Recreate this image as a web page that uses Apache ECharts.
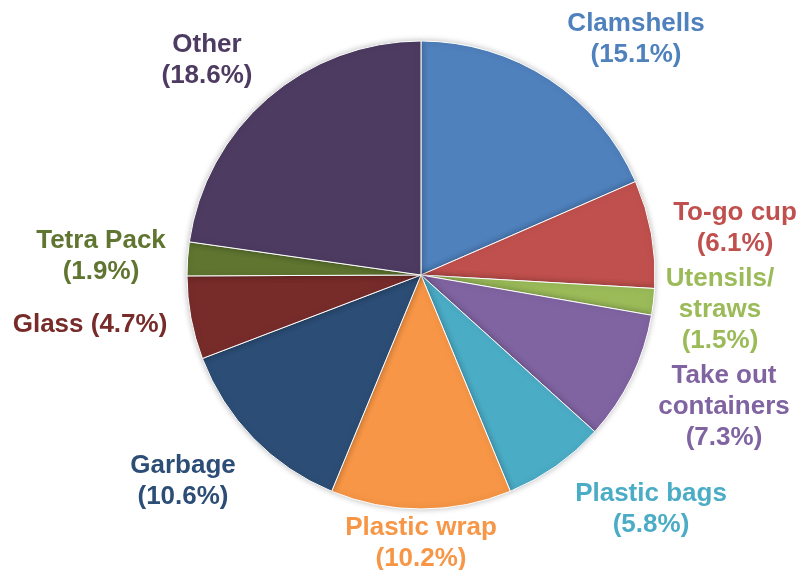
<!DOCTYPE html>
<html>
<head>
<meta charset="utf-8">
<style>
  html, body { margin: 0; padding: 0; background: #ffffff; }
  #chart { width: 804px; height: 570px; }
</style>
<script src="https://cdn.jsdelivr.net/npm/echarts@6/dist/echarts.min.js"></script>
</head>
<body>
<div id="chart"></div>
<script>
// Waste composition by category (share in percent)
const categories = ['Clamshells', 'To-go cup', 'Utensils/\nstraws', 'Take out\ncontainers', 'Plastic bags',
                    'Plastic wrap', 'Garbage', 'Glass', 'Tetra Pack', 'Other'];
const shares = [15.1, 6.1, 1.5, 7.3, 5.8, 10.2, 10.6, 4.7, 1.9, 18.6];

// Slice colours
const colors = ['#4F81BD', '#C0504D', '#9BBB59', '#8064A2', '#4BACC6',
                '#F79646', '#2C4D75', '#772C2A', '#5F7530', '#4D3B61'];

// Where each label block is centred (px), and how name and value are joined
const labelCenters = [[636, 39], [735, 228], [720, 310], [724, 407], [651, 509],
                      [421, 543], [183, 481], [90, 325], [101, 256], [207, 60]];
const labelJoin = ['\n', '\n', '\n', '\n', '\n', '\n', '\n', ' ', '\n', '\n'];

const chart = echarts.init(document.getElementById('chart'), null, { renderer: 'canvas' });

chart.setOption({
  animation: false,
  series: [{
    type: 'pie',
    center: [421, 275],
    radius: [0, 234],
    startAngle: 90,
    clockwise: true,
    avoidLabelOverlap: false,
    itemStyle: {
      borderColor: '#ffffff',
      borderWidth: 1,
      shadowBlur: 6,
      shadowColor: 'rgba(0,0,0,0.25)'
    },
    label: {
      show: true,
      position: 'outside',
      fontFamily: 'Liberation Sans, Arial, sans-serif',
      fontWeight: 'bold',
      fontSize: 26,
      lineHeight: 31,
      align: 'center',
      formatter: p => p.name + labelJoin[p.dataIndex] + '(' + p.value.toFixed(1) + '%)'
    },
    labelLine: { show: false },
    labelLayout: p => ({
      x: labelCenters[p.dataIndex][0],
      y: labelCenters[p.dataIndex][1],
      align: 'center',
      verticalAlign: 'middle'
    }),
    emphasis: { disabled: true },
    data: categories.map((name, i) => ({
      name: name,
      value: shares[i],
      itemStyle: { color: colors[i] },
      label: { color: colors[i] }
    }))
  }]
});
</script>
</body>
</html>
